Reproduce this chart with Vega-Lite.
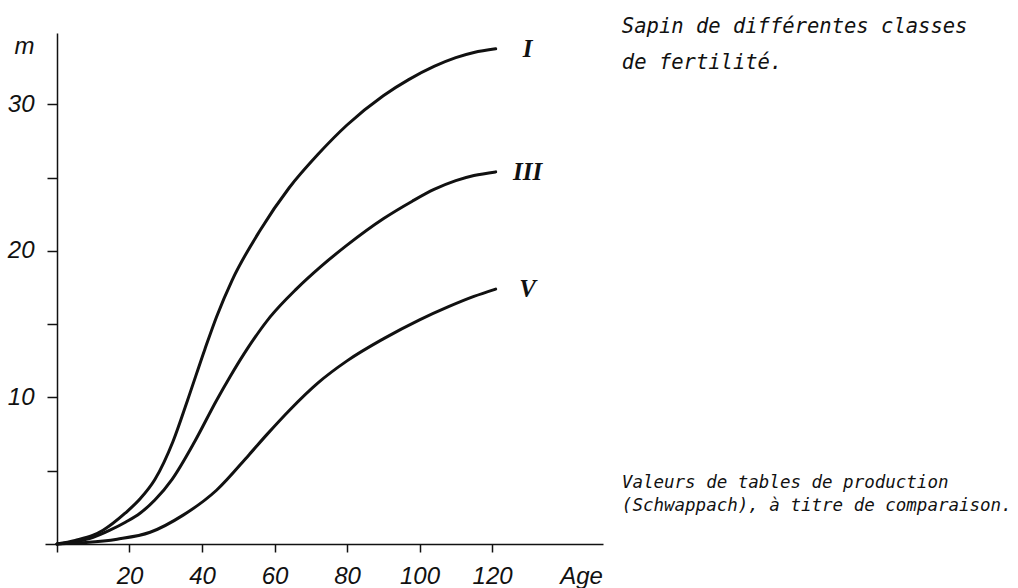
{
  "$schema": "https://vega.github.io/schema/vega-lite/v6.json",
  "width": 558,
  "height": 511,
  "autosize": {"type": "none"},
  "padding": {"left": 45, "top": 33, "right": 415, "bottom": 44},
  "background": "white",
  "config": {"view": {"stroke": null}},
  "datasets": {
    "curves": [
      {"curve": "I", "age": 0, "height": 0},
      {"curve": "I", "age": 5, "height": 0.25},
      {"curve": "I", "age": 10, "height": 0.6},
      {"curve": "I", "age": 12.7, "height": 0.94},
      {"curve": "I", "age": 18.8, "height": 2.1},
      {"curve": "I", "age": 23, "height": 3.1},
      {"curve": "I", "age": 27, "height": 4.4},
      {"curve": "I", "age": 32, "height": 7.0},
      {"curve": "I", "age": 36, "height": 9.8},
      {"curve": "I", "age": 40.8, "height": 13.3},
      {"curve": "I", "age": 44, "height": 15.5},
      {"curve": "I", "age": 48.3, "height": 18.0},
      {"curve": "I", "age": 56, "height": 21.4},
      {"curve": "I", "age": 64, "height": 24.3},
      {"curve": "I", "age": 72, "height": 26.6},
      {"curve": "I", "age": 80, "height": 28.6},
      {"curve": "I", "age": 90, "height": 30.6},
      {"curve": "I", "age": 97, "height": 31.7},
      {"curve": "I", "age": 104, "height": 32.6},
      {"curve": "I", "age": 110, "height": 33.2},
      {"curve": "I", "age": 115, "height": 33.55},
      {"curve": "I", "age": 121, "height": 33.8},
      {"curve": "III", "age": 0, "height": 0},
      {"curve": "III", "age": 5, "height": 0.15},
      {"curve": "III", "age": 10, "height": 0.45},
      {"curve": "III", "age": 14.6, "height": 0.94},
      {"curve": "III", "age": 19, "height": 1.5},
      {"curve": "III", "age": 22.9, "height": 2.1},
      {"curve": "III", "age": 27, "height": 3.0},
      {"curve": "III", "age": 31.7, "height": 4.4},
      {"curve": "III", "age": 38, "height": 7.0},
      {"curve": "III", "age": 44, "height": 9.8},
      {"curve": "III", "age": 47.7, "height": 11.4},
      {"curve": "III", "age": 52.7, "height": 13.4},
      {"curve": "III", "age": 58.8, "height": 15.5},
      {"curve": "III", "age": 66, "height": 17.4},
      {"curve": "III", "age": 72.6, "height": 18.9},
      {"curve": "III", "age": 80, "height": 20.4},
      {"curve": "III", "age": 90, "height": 22.2},
      {"curve": "III", "age": 98, "height": 23.4},
      {"curve": "III", "age": 104, "height": 24.2},
      {"curve": "III", "age": 110, "height": 24.8},
      {"curve": "III", "age": 115, "height": 25.15},
      {"curve": "III", "age": 121, "height": 25.4},
      {"curve": "V", "age": 0, "height": 0},
      {"curve": "V", "age": 8, "height": 0.1},
      {"curve": "V", "age": 16.6, "height": 0.33},
      {"curve": "V", "age": 25.7, "height": 0.8},
      {"curve": "V", "age": 34.8, "height": 1.97},
      {"curve": "V", "age": 44, "height": 3.67},
      {"curve": "V", "age": 53, "height": 6.1},
      {"curve": "V", "age": 58, "height": 7.5},
      {"curve": "V", "age": 64, "height": 9.1},
      {"curve": "V", "age": 72, "height": 11.0},
      {"curve": "V", "age": 80, "height": 12.5},
      {"curve": "V", "age": 90, "height": 14.0},
      {"curve": "V", "age": 100, "height": 15.3},
      {"curve": "V", "age": 108, "height": 16.2},
      {"curve": "V", "age": 115, "height": 16.9},
      {"curve": "V", "age": 121, "height": 17.4}
    ]
  },
  "layer": [
    {
      "data": {"name": "curves"},
      "mark": {"type": "line", "interpolate": "monotone", "stroke": "#111111", "strokeWidth": 3, "strokeCap": "round", "clip": false},
      "encoding": {
        "x": {
          "field": "age", "type": "quantitative",
          "scale": {"domain": [-3.3, 150.6], "nice": false, "zero": false},
          "axis": {
            "title": "Age", "titleX": 536, "titleY": 39, "titleAlign": "center", "titleBaseline": "alphabetic",
            "titleFont": "Liberation Sans", "titleFontStyle": "italic", "titleFontWeight": "normal", "titleFontSize": 24, "titleColor": "#111111",
            "values": [0, 20, 40, 60, 80, 100, 120],
            "labelExpr": "datum.value == 0 ? '' : datum.label",
            "tickSize": 8, "tickWidth": 1.5, "tickColor": "#111111",
            "domainColor": "#111111", "domainWidth": 1.5,
            "labelFont": "Liberation Sans", "labelFontStyle": "italic", "labelFontSize": 24, "labelColor": "#111111",
            "labelPadding": 31, "labelBaseline": "alphabetic", "labelFlush": false, "labelOverlap": false, "grid": false
          }
        },
        "y": {
          "field": "height", "type": "quantitative",
          "scale": {"domain": [0, 34.88], "nice": false},
          "axis": {
            "title": "m", "titleAngle": 0, "titleX": -33, "titleY": 20, "titleAlign": "center", "titleBaseline": "alphabetic",
            "titleFont": "Liberation Sans", "titleFontStyle": "italic", "titleFontWeight": "normal", "titleFontSize": 24, "titleColor": "#111111",
            "values": [5, 10, 15, 20, 25, 30],
            "labelExpr": "datum.value % 10 == 0 ? datum.label : ''",
            "offset": -12,
            "tickSize": 10, "tickWidth": 1.5, "tickColor": "#111111",
            "domainColor": "#111111", "domainWidth": 1.5,
            "labelFont": "Liberation Sans", "labelFontStyle": "italic", "labelFontSize": 24, "labelColor": "#111111",
            "labelPadding": 13, "labelBaseline": "middle", "labelOverlap": false, "grid": false
          }
        },
        "detail": {"field": "curve"}
      }
    },
    {
      "data": {"name": "curves"},
      "transform": [{"filter": "datum.age == 121"}],
      "mark": {"type": "text", "dx": 32, "align": "center", "baseline": "middle", "font": "Liberation Serif", "fontStyle": "italic", "fontWeight": "bold", "fontSize": 25, "color": "#111111"},
      "encoding": {
        "x": {"field": "age", "type": "quantitative"},
        "y": {"field": "height", "type": "quantitative"},
        "text": {"field": "curve"}
      }
    },
    {
      "data": {"values": [{}]},
      "mark": {"type": "text", "align": "left", "baseline": "alphabetic", "font": "DejaVu Sans Mono", "fontStyle": "italic", "fontSize": 20.5, "lineHeight": 36, "color": "#111111",
        "text": ["Sapin de différentes classes", "de fertilité."]},
      "encoding": {
        "x": {"datum": 155.8, "type": "quantitative"},
        "y": {"datum": 34.88, "type": "quantitative"}
      }
    },
    {
      "data": {"values": [{}]},
      "mark": {"type": "text", "align": "left", "baseline": "alphabetic", "font": "DejaVu Sans Mono", "fontStyle": "italic", "fontSize": 17.5, "lineHeight": 23, "color": "#111111",
        "text": ["Valeurs de tables de production", "(Schwappach), à titre de comparaison."]},
      "encoding": {
        "x": {"datum": 155.8, "type": "quantitative"},
        "y": {"datum": 3.82, "type": "quantitative"}
      }
    }
  ]
}
